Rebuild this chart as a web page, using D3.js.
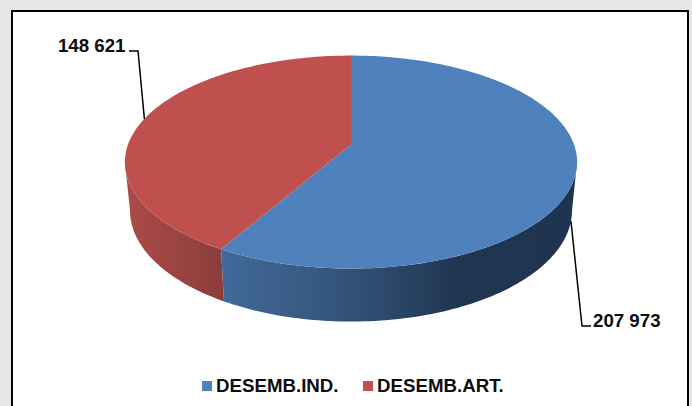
<!DOCTYPE html>
<html>
<head>
<meta charset="utf-8">
<script src="https://cdn.jsdelivr.net/npm/d3@7"></script>
<style>
  html, body { margin: 0; padding: 0; background: #e6e6e6; overflow: hidden; }
  text { font-family: "Liberation Sans", Arial, sans-serif; font-weight: bold; fill: #0d0d0d; }
</style>
</head>
<body>
<script>
// data
const categories = ["DESEMB.IND.", "DESEMB.ART."];
const values = [207973, 148621];
const valueLabels = ["207 973", "148 621"];
const topColors = ["#4f81bd", "#c0504d"];

const width = 692, height = 406;
const svg = d3.select("body").append("svg")
  .attr("width", width).attr("height", height).style("display", "block");

// frame
svg.append("rect")
  .attr("x", 12).attr("y", 11)
  .attr("width", 676).attr("height", 410)
  .attr("fill", "#fff").attr("stroke", "#000").attr("stroke-width", 2);

// perspective tilt of the disc, k = how much closer the front edge is
const k = 0.165;
const cx = 351;
const topDisc = { x: 223, y: 103.6, cy: 144.5 };
const bottomDisc = { x: 218, y: 108.2, cy: 192 };

function project(disc, angle) {
  const u = Math.sin(angle), v = -Math.cos(angle);
  const w = 1 - k * v;
  return [cx + (disc.x * u) / w, disc.cy + (disc.y * v) / w];
}

function arcPoints(disc, a0, a1) {
  const n = Math.max(2, Math.ceil(Math.abs(a1 - a0) / 0.02));
  return d3.range(n + 1).map((i) => project(disc, a0 + ((a1 - a0) * i) / n));
}

const pie = d3.pie().sort(null).value((d) => d);
const slices = pie(values);
const line = d3.line();

// only the front of the wall shows, between the two silhouette tangents
const wallStart = Math.acos(-k);
const wallEnd = 2 * Math.PI - wallStart;

const defs = svg.append("defs");

function wallGradient(id, x1, x2, stops) {
  const g = defs.append("linearGradient")
    .attr("id", id)
    .attr("gradientUnits", "userSpaceOnUse")
    .attr("x1", x1).attr("x2", x2).attr("y1", 0).attr("y2", 0);
  stops.forEach((s) => {
    g.append("stop").attr("offset", s[0]).attr("stop-color", s[1]);
  });
}
wallGradient("wall0", 222, 570, [[0, "#42699a"], [0.2, "#3a5d88"], [0.45, "#2d4b6e"], [0.68, "#1f3550"], [1, "#1e3450"]]);
wallGradient("wall1", 128, 224, [[0, "#ab4b48"], [1, "#8b3d3b"]]);

// side walls
slices.forEach((s, i) => {
  const a0 = Math.max(s.startAngle, wallStart);
  const a1 = Math.min(s.endAngle, wallEnd);
  const pts = arcPoints(topDisc, a0, a1).concat(arcPoints(bottomDisc, a1, a0));
  svg.append("path")
    .attr("d", line(pts) + "Z")
    .attr("fill", `url(#wall${i})`);
});

// top faces
slices.forEach((s, i) => {
  const pts = [[cx, topDisc.cy]].concat(arcPoints(topDisc, s.startAngle, s.endAngle));
  svg.append("path")
    .attr("d", line(pts) + "Z")
    .attr("fill", topColors[i]);
});

// data labels with elbow leaders
const mid = slices.map((s) => (s.startAngle + s.endAngle) / 2);
const leaders = [
  { from: project(bottomDisc, mid[0]), elbow: [582, 326], end: [591, 326], tx: 593, ty: 327, anchor: "start" },
  { from: project(topDisc, mid[1]), elbow: [138, 51], end: [129, 51], tx: 125.5, ty: 52, anchor: "end" },
];
leaders.forEach((l, i) => {
  svg.append("path")
    .attr("d", line([l.from, l.elbow, l.end]))
    .attr("fill", "none").attr("stroke", "#000").attr("stroke-width", 1.5);
  svg.append("text")
    .attr("x", l.tx).attr("y", l.ty)
    .attr("text-anchor", l.anchor)
    .attr("font-size", 18.7)
    .text(valueLabels[i]);
});

// legend
const legendX = d3.scaleOrdinal().domain(categories).range([202, 363]);
categories.forEach((c, i) => {
  svg.append("rect")
    .attr("x", legendX(c)).attr("y", 381)
    .attr("width", 10).attr("height", 10)
    .attr("fill", topColors[i]);
  svg.append("text")
    .attr("x", legendX(c) + 14).attr("y", 392)
    .attr("font-size", 18.7)
    .text(c);
});
</script>
</body>
</html>
